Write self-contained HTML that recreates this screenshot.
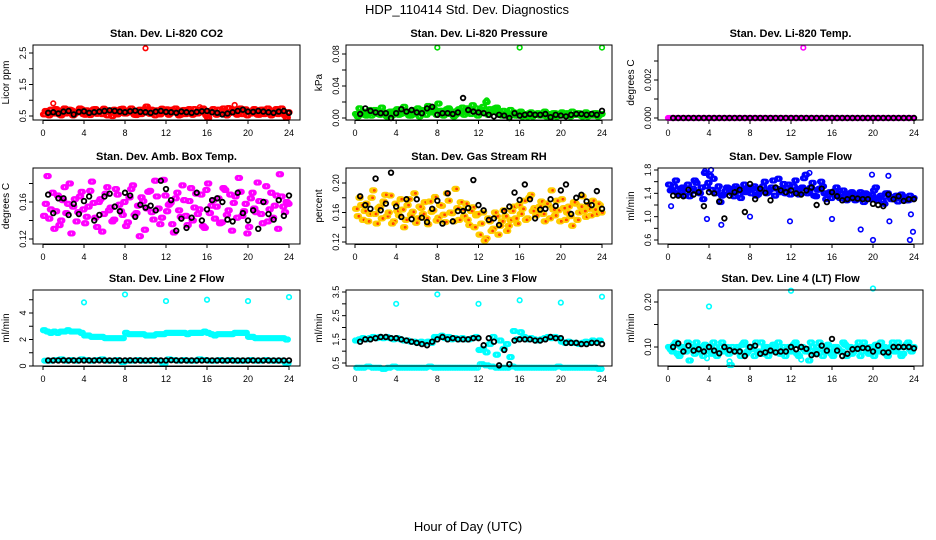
<!DOCTYPE html>
<html><head><meta charset="utf-8"><style>
html,body{margin:0;padding:0;background:#fff;}
svg{display:block;font-family:"Liberation Sans",Arial,sans-serif;}
</style></head><body>
<svg id="chart" width="936" height="540" viewBox="0 0 936 540" xmlns="http://www.w3.org/2000/svg">
<text x="467" y="14" text-anchor="middle" font-size="13">HDP_110414  Std. Dev. Diagnostics</text>
<text x="468" y="531" text-anchor="middle" font-size="13">Hour of Day (UTC)</text>
</svg>
<script>
const xTicks = [0,4,8,12,16,20,24];
// Panel 1 CO2
const co2Color = [0.55,0.62,0.70,0.58,0.66,0.52,0.74,0.60,0.68,0.57,0.63,0.71,0.54,0.65,0.59,0.72,0.61,0.56,0.69,0.64,0.50,0.67,0.60,0.73,0.58,0.62,0.66,0.53,0.70,0.61,0.80,0.57,0.64,0.68,0.55,0.62,0.71,0.59,0.63,0.66,0.54,0.69,0.60,0.65,0.72,0.58,0.62,0.67,0.45,0.61,0.64,0.70,0.57,0.66,0.75,0.62,0.68,0.60,0.56,0.71,0.63,0.59,0.66,0.54,0.70,0.61,0.65,0.58,0.72,0.60,0.64,0.45];
const co2Color2 = [0.66,0.52,0.60,0.72,0.55,0.68,0.58,0.70,0.52,0.64,0.74,0.56,0.68,0.53,0.71,0.57,0.66,0.73,0.52,0.60,0.70,0.55,0.72,0.58,0.66,0.74,0.54,0.62,0.56,0.72,0.60,0.70,0.52,0.58,0.73,0.66,0.54,0.70,0.74,0.52,0.68,0.56,0.72,0.54,0.60,0.70,0.74,0.52,0.66,0.72,0.54,0.58,0.74,0.52,0.60,0.70,0.54,0.74,0.66,0.52,0.58,0.72,0.54,0.70,0.56,0.74,0.52,0.68,0.56,0.74,0.52,0.62];
const co2Black = [0.60,0.62,0.58,0.64,0.66,0.55,0.63,0.65,0.60,0.62,0.64,0.66,0.68,0.66,0.64,0.62,0.65,0.67,0.63,0.62,0.60,0.64,0.66,0.63,0.62,0.60,0.64,0.62,0.60,0.63,0.65,0.66,0.62,0.60,0.55,0.58,0.62,0.66,0.70,0.64,0.63,0.66,0.64,0.62,0.60,0.64,0.66,0.60];
const co2OutX = [10,1,18.7,15.3], co2OutY = [2.65,0.90,0.85,0.78];
// Panel 2 Pressure
const presColor = [0.005,0.012,0.008,0.003,0.010,0.006,0.009,0.004,0.007,0.002,0.008,0.006,0.011,0.005,0.014,0.008,0.003,0.010,0.012,0.006,0.009,0.015,0.007,0.010,0.018,0.009,0.006,0.012,0.008,0.004,0.011,0.013,0.007,0.010,0.016,0.012,0.009,0.014,0.020,0.011,0.008,0.013,0.006,0.009,0.004,0.010,0.007,0.003,0.008,0.005,0.002,0.007,0.004,0.006,0.003,0.008,0.005,0.002,0.006,0.004,0.007,0.003,0.005,0.008,0.004,0.006,0.002,0.007,0.005,0.003,0.006,0.004];
const presColor2 = [0.002,0.006,0.004,0.008,0.003,0.010,0.005,0.013,0.004,0.007,0.003,0.009,0.004,0.010,0.006,0.003,0.008,0.005,0.002,0.010,0.004,0.008,0.012,0.004,0.009,0.003,0.011,0.005,0.002,0.009,0.006,0.004,0.012,0.005,0.008,0.003,0.010,0.006,0.004,0.008,0.012,0.005,0.003,0.006,0.002,0.005,0.003,0.006,0.002,0.004,0.006,0.002,0.005,0.003,0.006,0.002,0.004,0.006,0.002,0.005,0.003,0.006,0.002,0.004,0.006,0.003,0.005,0.002,0.004,0.006,0.002,0.005];
const presBlack = [0.005,0.012,0.009,0.007,0.006,0.006,0.000,0.006,0.011,0.008,0.010,0.007,0.006,0.012,0.014,0.004,0.006,0.006,0.005,0.007,0.025,0.010,0.008,0.007,0.006,0.004,0.002,0.004,0.003,0.000,0.006,0.003,0.004,0.005,0.004,0.004,0.005,0.001,0.004,0.003,0.002,0.004,0.005,0.005,0.004,0.005,0.004,0.009];
const presOutX = [8,16,24,12.8], presOutY = [0.088,0.088,0.088,0.022];
// Panel 3 Temp
const tempColor = [0,0,0,0,0,0,0,0,0,0,0,0,0,0,0,0,0,0,0,0,0,0,0,0,0,0,0,0,0,0,0,0,0,0,0,0,0,0,0,0,0,0,0,0,0,0,0,0,0,0,0,0,0,0,0,0,0,0,0,0,0,0,0,0,0,0,0,0,0,0,0,0];
const tempBlack = [0,0,0,0,0,0,0,0,0,0,0,0,0,0,0,0,0,0,0,0,0,0,0,0,0,0,0,0,0,0,0,0,0,0,0,0,0,0,0,0,0,0,0,0,0,0,0,0];
const tempOutX = [13.2], tempOutY = [0.0037];
// Panel 4 Amb Box Temp
const boxColor = [0.145,0.188,0.152,0.131,0.167,0.140,0.176,0.158,0.126,0.163,0.149,0.171,0.137,0.155,0.182,0.143,0.160,0.128,0.169,0.151,0.139,0.174,0.157,0.146,0.134,0.165,0.178,0.148,0.123,0.161,0.153,0.172,0.141,0.166,0.136,0.184,0.150,0.159,0.127,0.170,0.144,0.162,0.135,0.175,0.154,0.147,0.168,0.132,0.180,0.156,0.142,0.164,0.138,0.173,0.151,0.129,0.166,0.186,0.145,0.158,0.133,0.170,0.149,0.161,0.137,0.177,0.152,0.143,0.167,0.190,0.155,0.160];
const boxColor2 = [0.158,0.142,0.170,0.150,0.135,0.162,0.148,0.180,0.155,0.139,0.166,0.152,0.144,0.172,0.159,0.133,0.163,0.147,0.176,0.154,0.141,0.168,0.150,0.160,0.138,0.174,0.146,0.156,0.165,0.130,0.171,0.149,0.183,0.153,0.143,0.167,0.157,0.136,0.164,0.151,0.178,0.145,0.161,0.140,0.169,0.152,0.134,0.173,0.148,0.162,0.155,0.137,0.175,0.146,0.168,0.159,0.143,0.171,0.150,0.126,0.164,0.153,0.181,0.147,0.160,0.139,0.170,0.156,0.131,0.166,0.149,0.158];
const boxBlack = [0.168,0.148,0.164,0.164,0.146,0.158,0.147,0.161,0.166,0.140,0.146,0.166,0.169,0.155,0.150,0.170,0.167,0.144,0.157,0.154,0.156,0.151,0.183,0.174,0.162,0.129,0.142,0.132,0.143,0.170,0.140,0.152,0.162,0.164,0.160,0.141,0.139,0.170,0.148,0.140,0.151,0.131,0.160,0.147,0.141,0.162,0.145,0.167];
// Panel 5 Gas Stream RH
const rhColor = [0.165,0.180,0.150,0.172,0.158,0.190,0.145,0.168,0.175,0.155,0.183,0.148,0.162,0.178,0.140,0.170,0.157,0.186,0.152,0.166,0.174,0.144,0.161,0.181,0.153,0.169,0.147,0.176,0.159,0.192,0.150,0.164,0.172,0.143,0.167,0.156,0.130,0.160,0.125,0.148,0.138,0.155,0.142,0.163,0.135,0.150,0.168,0.145,0.158,0.176,0.152,0.184,0.166,0.160,0.175,0.148,0.170,0.190,0.156,0.163,0.178,0.150,0.168,0.142,0.172,0.160,0.182,0.154,0.165,0.176,0.158,0.170];
const rhColor2 = [0.155,0.170,0.162,0.148,0.180,0.158,0.166,0.152,0.184,0.160,0.145,0.172,0.156,0.164,0.150,0.178,0.161,0.146,0.168,0.158,0.152,0.175,0.163,0.149,0.170,0.157,0.186,0.160,0.148,0.166,0.174,0.155,0.150,0.162,0.140,0.158,0.145,0.122,0.152,0.135,0.160,0.130,0.148,0.155,0.142,0.162,0.152,0.170,0.165,0.150,0.180,0.162,0.156,0.168,0.158,0.172,0.152,0.164,0.176,0.148,0.166,0.160,0.155,0.174,0.150,0.168,0.162,0.170,0.156,0.164,0.172,0.160];
const rhBlack = [0.182,0.170,0.165,0.206,0.163,0.172,0.214,0.168,0.154,0.178,0.151,0.178,0.153,0.147,0.165,0.176,0.145,0.186,0.148,0.162,0.162,0.166,0.204,0.170,0.163,0.150,0.152,0.143,0.162,0.168,0.187,0.177,0.198,0.178,0.152,0.164,0.165,0.178,0.169,0.190,0.198,0.158,0.180,0.184,0.175,0.170,0.189,0.165];
// Panel 6 Sample Flow
const flowColor = [1.55,1.45,1.62,1.38,1.50,1.42,1.35,1.48,1.58,1.40,1.30,1.52,1.70,1.65,1.45,1.25,1.38,1.50,1.42,1.35,1.48,1.32,1.55,1.44,1.40,1.52,1.38,1.46,1.60,1.42,1.50,1.36,1.65,1.48,1.40,1.55,1.45,1.62,1.38,1.50,1.72,1.44,1.58,1.35,1.48,1.52,1.30,1.42,1.38,1.50,1.32,1.45,1.28,1.40,1.35,1.30,1.42,1.25,1.38,1.32,1.45,1.28,1.36,1.22,1.40,1.30,1.34,1.26,1.38,1.32,1.28,1.30];
const flowColor2 = [1.45,1.52,1.40,1.48,1.36,1.55,1.44,1.62,1.42,1.50,1.75,1.58,1.46,1.40,1.52,1.36,1.44,1.48,1.40,1.52,1.38,1.46,1.42,1.50,1.48,1.36,1.44,1.52,1.40,1.46,1.62,1.48,1.42,1.56,1.50,1.38,1.52,1.44,1.48,1.66,1.40,1.50,1.36,1.46,1.60,1.40,1.38,1.32,1.44,1.36,1.40,1.30,1.36,1.42,1.28,1.38,1.34,1.40,1.30,1.36,1.50,1.32,1.28,1.40,1.34,1.30,1.36,1.32,1.34,1.28,1.36,1.32];
const flowOutX = [0.3,3.8,5.2,8.0,11.9,16.0,18.8,20.0,21.6,23.6,23.9,23.7,13.8,3.6,4.2,19.9,21.5], flowOutY = [1.18,0.96,0.86,1.00,0.92,0.96,0.78,0.60,0.92,0.60,0.74,1.04,1.75,1.78,1.80,1.72,1.70];
const flowBlack = [1.36,1.36,1.35,1.46,1.38,1.42,1.18,1.42,1.40,1.26,0.97,1.36,1.42,1.46,1.08,1.56,1.30,1.48,1.41,1.28,1.50,1.45,1.42,1.45,1.40,1.38,1.45,1.50,1.20,1.48,1.25,1.42,1.35,1.28,1.30,1.32,1.31,1.30,1.30,1.22,1.20,1.18,1.38,1.30,1.35,1.27,1.30,1.30];
// Panel 7 Line 2 Flow
const l2Upper = [2.7,2.6,2.5,2.6,2.5,2.6,2.6,2.7,2.6,2.6,2.6,2.5,2.3,2.3,2.2,2.2,2.2,2.2,2.1,2.1,2.1,2.1,2.1,2.1,2.5,2.4,2.4,2.4,2.4,2.4,2.3,2.3,2.3,2.4,2.4,2.4,2.5,2.5,2.5,2.5,2.5,2.5,2.4,2.5,2.5,2.5,2.5,2.6,2.5,2.4,2.3,2.4,2.4,2.4,2.4,2.4,2.5,2.5,2.5,2.5,2.2,2.2,2.1,2.1,2.1,2.1,2.1,2.1,2.1,2.1,2.1,2.0];
const l2Lower = [0.4,0.4,0.45,0.5,0.4,0.45,0.4,0.5,0.45,0.4,0.45,0.5,0.4,0.4,0.45,0.3,0.4,0.4,0.45,0.4,0.4,0.45,0.4,0.2,0.5,0.45,0.4,0.45,0.4,0.4,0.5,0.45,0.4,0.4,0.45,0.4,0.45,0.4,0.4,0.4,0.45,0.4,0.4,0.45,0.4,0.4,0.4,0.2];
const l2Black = [0.42,0.42,0.42,0.43,0.42,0.42,0.42,0.42,0.42,0.42,0.43,0.42,0.42,0.42,0.42,0.42,0.43,0.42,0.42,0.42,0.42,0.42,0.42,0.42,0.44,0.42,0.42,0.42,0.42,0.42,0.42,0.43,0.42,0.42,0.42,0.42,0.42,0.42,0.42,0.42,0.42,0.42,0.42,0.42,0.42,0.42,0.42,0.42];
const l2OutX = [4,8,12,16,20,24], l2OutY = [4.8,5.4,4.9,5.0,4.9,5.2];
// Panel 8 Line 3 Flow
const l3Upper = [1.45,1.5,1.55,1.5,1.55,1.6,1.55,1.6,1.55,1.6,1.55,1.5,1.55,1.5,1.45,1.45,1.4,1.4,1.35,1.4,1.35,1.4,1.35,1.6,1.6,1.65,1.55,1.6,1.5,1.55,1.5,1.55,1.5,1.5,1.55,1.6,1.05,1.1,0.95,1.3,1.6,0.85,1.45,1.1,1.3,0.75,1.85,1.5,1.8,1.6,1.5,1.55,1.5,1.45,1.5,1.55,1.6,1.55,1.6,1.55,1.4,1.35,1.4,1.35,1.35,1.3,1.35,1.4,1.35,1.45,1.4,1.45];
const l3Lower = [0.3,0.3,0.35,0.3,0.3,0.25,0.3,0.35,0.3,0.3,0.3,0.3,0.3,0.3,0.35,0.3,0.3,0.3,0.3,0.3,0.3,0.3,0.3,0.3,0.45,0.4,0.35,0.3,0.3,0.3,0.35,0.3,0.3,0.3,0.3,0.3,0.3,0.3,0.3,0.35,0.3,0.3,0.3,0.3,0.3,0.3,0.3,0.25];
const l3Black = [1.4,1.5,1.5,1.55,1.6,1.6,1.55,1.55,1.5,1.45,1.4,1.35,1.3,1.25,1.4,1.5,1.6,1.5,1.55,1.5,1.5,1.5,1.55,1.55,1.25,1.55,1.4,0.4,1.05,0.45,1.45,1.5,1.5,1.5,1.45,1.45,1.5,1.6,1.55,1.55,1.35,1.35,1.35,1.3,1.3,1.35,1.35,1.3];
const l3OutX = [4,8,12,16,20,24], l3OutY = [3.0,3.4,3.0,3.15,3.05,3.3];
// Panel 9 Line 4 Flow
const l4Color = [0.10,0.09,0.11,0.08,0.10,0.09,0.07,0.10,0.11,0.09,0.08,0.10,0.09,0.11,0.08,0.10,0.09,0.10,0.06,0.09,0.10,0.08,0.11,0.09,0.10,0.08,0.09,0.11,0.10,0.08,0.09,0.10,0.11,0.09,0.08,0.10,0.09,0.11,0.08,0.10,0.09,0.07,0.10,0.09,0.11,0.08,0.10,0.09,0.08,0.10,0.09,0.11,0.08,0.10,0.09,0.10,0.08,0.11,0.09,0.10,0.08,0.09,0.11,0.10,0.08,0.10,0.09,0.11,0.08,0.10,0.11,0.09];
const l4Color2 = [0.095,0.105,0.085,0.10,0.09,0.11,0.095,0.085,0.10,0.09,0.105,0.095,0.085,0.10,0.09,0.11,0.095,0.085,0.10,0.095,0.09,0.105,0.085,0.10,0.095,0.11,0.09,0.085,0.10,0.095,0.105,0.09,0.085,0.10,0.095,0.09,0.105,0.085,0.10,0.095,0.09,0.11,0.085,0.10,0.095,0.09,0.105,0.085,0.10,0.095,0.09,0.105,0.10,0.085,0.095,0.11,0.09,0.10,0.085,0.095,0.105,0.09,0.10,0.085,0.095,0.11,0.09,0.10,0.085,0.105,0.095,0.10];
const l4Black = [0.10,0.108,0.09,0.103,0.092,0.095,0.09,0.10,0.092,0.086,0.10,0.093,0.09,0.09,0.08,0.10,0.103,0.085,0.088,0.092,0.088,0.09,0.09,0.10,0.095,0.10,0.096,0.082,0.084,0.103,0.092,0.118,0.092,0.08,0.085,0.095,0.096,0.098,0.097,0.09,0.103,0.088,0.088,0.10,0.10,0.10,0.10,0.097];
const l4OutX = [4,12,20,2.2,6,13,3.8], l4OutY = [0.19,0.225,0.23,0.07,0.068,0.072,0.075];

const svg = document.getElementById('chart');
const NS = 'http://www.w3.org/2000/svg';
function mk(tag, attrs, parent){ const e=document.createElementNS(NS,tag); for(const k in attrs) e.setAttribute(k,attrs[k]); (parent||svg).appendChild(e); return e; }

const cols = [{l:33,r:300,x0:43,x24:289},{l:346,r:612,x0:355,x24:602},{l:658,r:923,x0:668,x24:914}];
const rows = [{t:45,b:120},{t:168,b:244},{t:290,b:366}];

const panels = [
 {name:'co2',title:'Stan. Dev. Li-820 CO2',ylab:'Licor ppm',col:0,row:0,v1:0.5,p1:116,v2:2.5,p2:53,ticks:[0.5,1,1.5,2,2.5],labels:['0.5','1.5','2.5'],labelVals:[0.5,1.5,2.5],color:'#ff0000',
  colored:[co2Color,co2Color2],black:co2Black,outX:co2OutX,outY:co2OutY},
 {name:'pressure',title:'Stan. Dev. Li-820 Pressure',ylab:'kPa',col:1,row:0,v1:0,p1:118,v2:0.08,p2:54,ticks:[0,0.02,0.04,0.06,0.08],labels:['0.00','0.04','0.08'],labelVals:[0,0.04,0.08],color:'#00dd00',
  colored:[presColor,presColor2],black:presBlack,outX:presOutX,outY:presOutY},
 {name:'li820-temp',title:'Stan. Dev. Li-820 Temp.',ylab:'degrees C',col:2,row:0,v1:0,p1:118,v2:0.002,p2:80,ticks:[0,0.001,0.002,0.003],labels:['0.000','0.002'],labelVals:[0,0.002],color:'#ff00ff',
  colored:[tempColor],black:tempBlack,outX:tempOutX,outY:tempOutY},
 {name:'box-temp',title:'Stan. Dev. Amb. Box Temp.',ylab:'degrees C',col:0,row:1,v1:0.12,p1:239,v2:0.16,p2:202,ticks:[0.12,0.14,0.16,0.18],labels:['0.12','0.16'],labelVals:[0.12,0.16],color:'#ff00ff',
  colored:[boxColor,boxColor2],black:boxBlack,outX:[],outY:[]},
 {name:'gas-rh',title:'Stan. Dev. Gas Stream RH',ylab:'percent',col:1,row:1,v1:0.12,p1:242,v2:0.20,p2:183,ticks:[0.12,0.14,0.16,0.18,0.20],labels:['0.12','0.16','0.20'],labelVals:[0.12,0.16,0.20],color:'#ffcc00',inner:'#ff3300',
  colored:[rhColor,rhColor2],black:rhBlack,outX:[],outY:[]},
 {name:'sample-flow',title:'Stan. Dev. Sample Flow',ylab:'ml/min',col:2,row:1,v1:0.6,p1:240,v2:1.8,p2:170,ticks:[0.6,0.8,1.0,1.2,1.4,1.6,1.8],labels:['0.6','1.0','1.4','1.8'],labelVals:[0.6,1.0,1.4,1.8],color:'#0000ff',
  colored:[flowColor,flowColor2],black:flowBlack,outX:flowOutX,outY:flowOutY},
 {name:'line2-flow',title:'Stan. Dev. Line 2 Flow',ylab:'ml/min',col:0,row:2,v1:0,p1:366,v2:4,p2:313,ticks:[0,1,2,3,4,5],labels:['0','2','4'],labelVals:[0,2,4],color:'#00ffff',
  colored:[l2Upper],lower:l2Lower,black:l2Black,outX:l2OutX,outY:l2OutY},
 {name:'line3-flow',title:'Stan. Dev. Line 3 Flow',ylab:'ml/min',col:1,row:2,v1:0.5,p1:363,v2:3.5,p2:292,ticks:[0.5,1,1.5,2,2.5,3,3.5],labels:['0.5','1.5','2.5','3.5'],labelVals:[0.5,1.5,2.5,3.5],color:'#00ffff',
  colored:[l3Upper],lower:l3Lower,black:l3Black,outX:l3OutX,outY:l3OutY},
 {name:'line4-flow',title:'Stan. Dev. Line 4 (LT) Flow',ylab:'ml/min',col:2,row:2,v1:0.10,p1:347,v2:0.20,p2:302,ticks:[0.10,0.15,0.20],labels:['0.10','0.20'],labelVals:[0.10,0.20],color:'#00ffff',
  colored:[l4Color,l4Color2],black:l4Black,outX:l4OutX,outY:l4OutY}
];

panels.forEach(p=>{
  const c=cols[p.col], r=rows[p.row];
  const xs = h => c.x0 + (c.x24-c.x0)*h/24;
  const ys = v => p.p1 + (p.p2-p.p1)*(v-p.v1)/(p.v2-p.v1);
  const g = mk('g',{});
  
  
  const title = mk('text',{x:(c.l+c.r)/2,y:r.t-8,'text-anchor':'middle','font-size':'11','font-weight':'bold'},g);
  title.textContent = p.title;
  
  
  const yl = mk('text',{transform:`translate(${c.l-24},${(r.t+r.b)/2}) rotate(-90)`,'text-anchor':'middle','font-size':'10'},g);
  yl.textContent = p.ylab;
  
  
  xTicks.forEach(t=>{
    const x=xs(t);
    mk('line',{x1:x,x2:x,y1:r.b,y2:r.b+4,stroke:'#000','stroke-width':1},g);
    const tx = mk('text',{x:x,y:r.b+16,'text-anchor':'middle','font-size':'9'},g);
    tx.textContent = t;
    
    
  });
  mk('line',{x1:xs(0),x2:xs(24),y1:r.b+0.5,y2:r.b+0.5,stroke:'#000'},g);
  p.ticks.forEach(t=>{
    const y=ys(t);
    if(y<r.t-1||y>r.b+1) return;
    mk('line',{x1:c.l-4,x2:c.l,y1:y,y2:y,stroke:'#000'},g);
  });
  p.labelVals.forEach((t,i)=>{
    const y=ys(t);
    const tx = mk('text',{transform:`translate(${c.l-7},${y}) rotate(-90)`,'text-anchor':'middle','font-size':'9'},g);
    tx.textContent = p.labels[i];
    
    
  });
  const clip = mk('g',{},g);
  const dot=(h,v,col,rad,sw,name)=>{
    const e=mk('circle',{cx:xs(h),cy:ys(v),r:rad,fill:'none',stroke:col,'stroke-width':sw},clip);
    
    
  };
  // dense colored series: each sample marker drawn as a small run across its time slot
  const run=(arr,offset,name)=>{
    const slot = 24/arr.length;
    arr.forEach((v,i)=>{
      for(let k=0;k<3;k++){
        const h = (i+offset)*slot + k*slot/3;
        dot(h,v,p.color,2.3,1.6,name);
        if(p.inner) dot(h,v,p.inner,0.9,0.8,name+'-core');
      }
    });
  };
  p.colored.forEach((arr,k)=> run(arr, k?0.5:0, p.name+'-point'));
  if(p.lower) run(p.lower, 0.25, p.name+'-lower-point');
  p.outX.forEach((h,i)=>{ dot(h,p.outY[i],p.color,2.3,1.6,p.name+'-outlier'); });
  p.black.forEach((v,i)=>{ dot((i+1)*24/p.black.length,v,'#000',2.3,1.8,p.name+'-hourly-point'); });
  const fr = mk('rect',{x:c.l,y:r.t,width:c.r-c.l,height:r.b-r.t,fill:'none',stroke:'#000','stroke-width':1},g);
  
  
});
</script>
</body></html>
